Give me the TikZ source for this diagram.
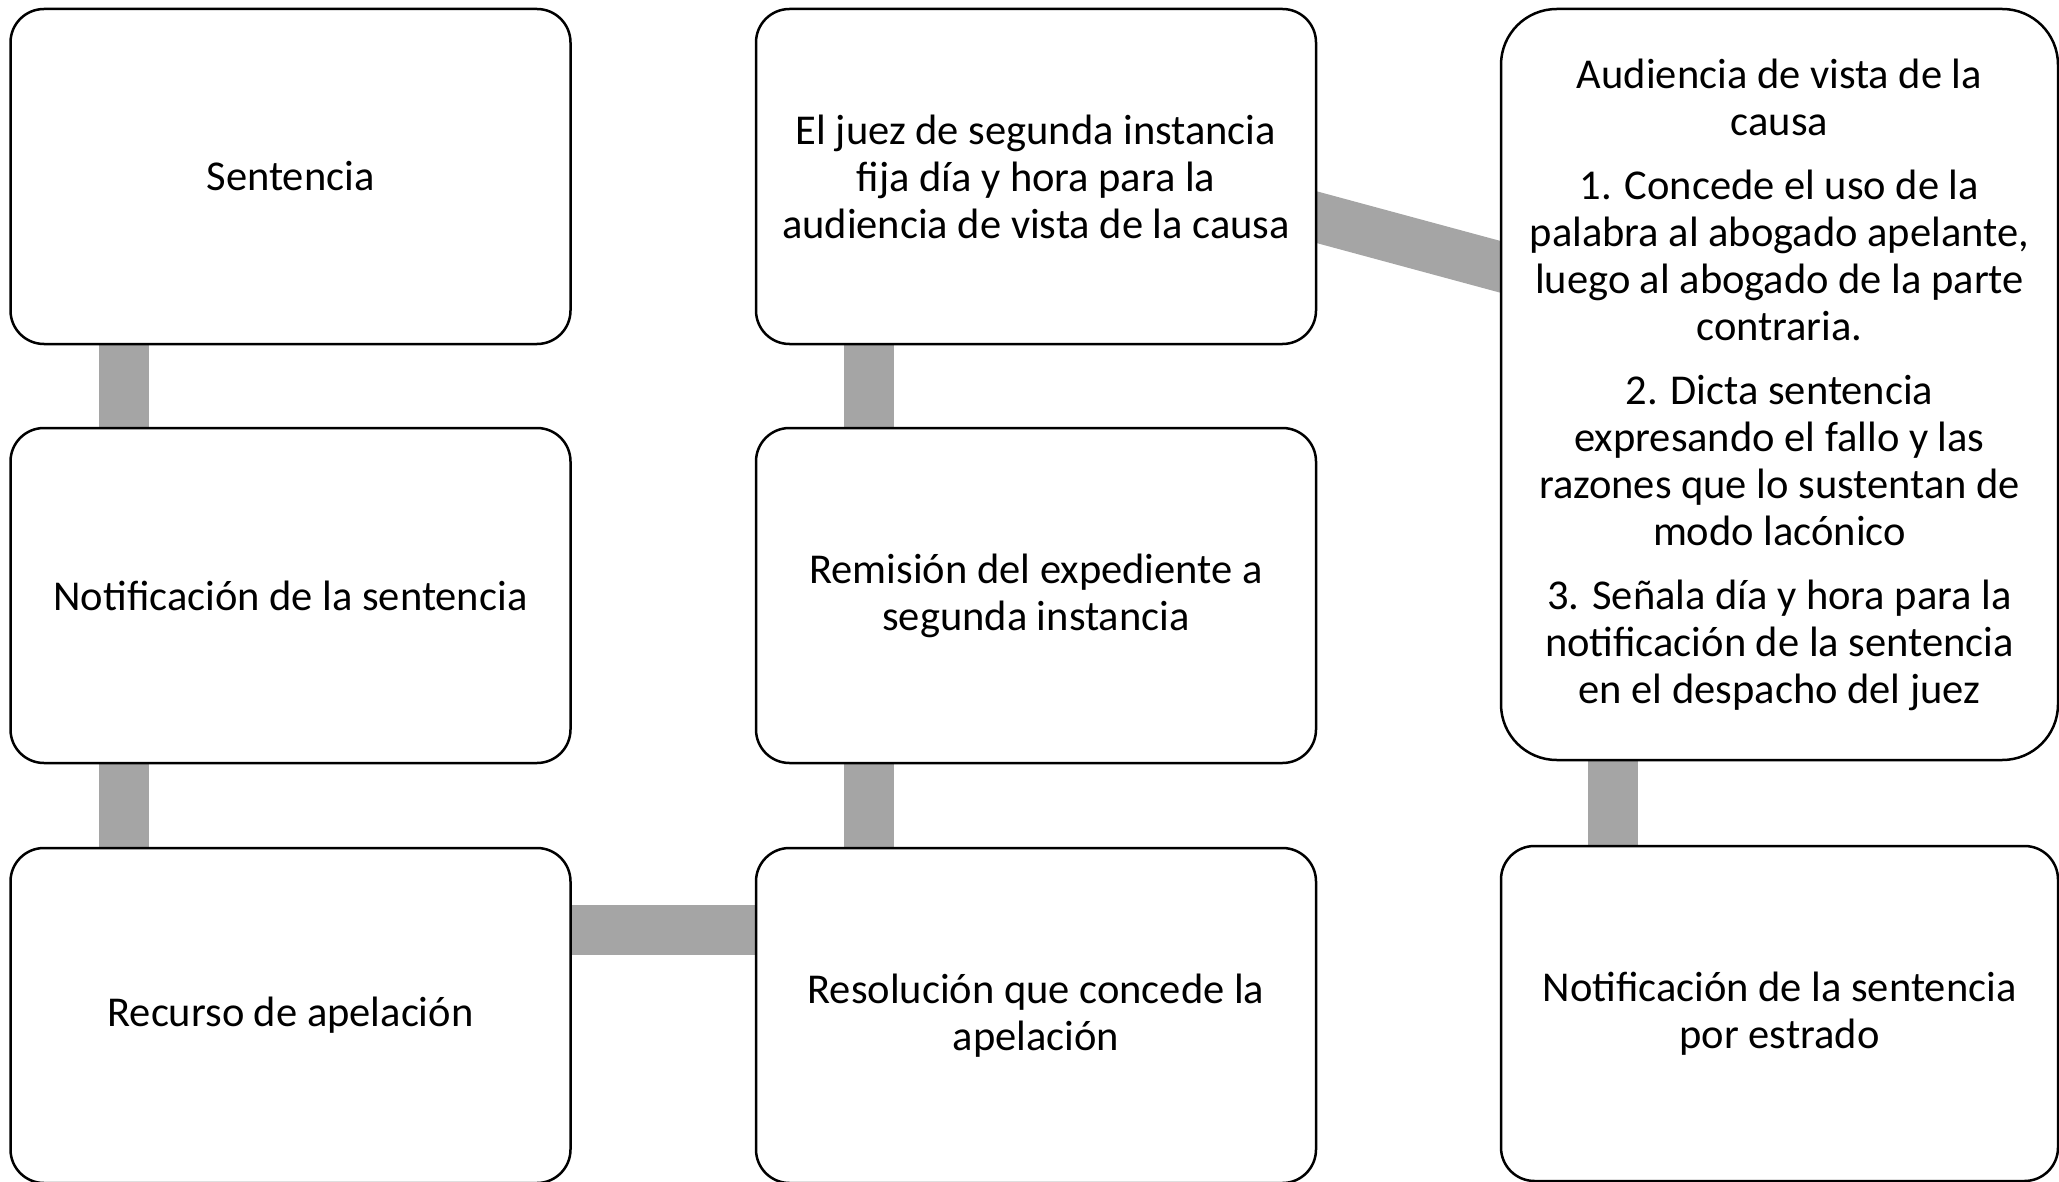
\documentclass[tikz,border=0pt]{standalone}
\usepackage{fontspec}
\setmainfont{Carlito}
\usetikzlibrary{calc,backgrounds}
\definecolor{conngray}{HTML}{A5A5A5}
\begin{document}
\begin{tikzpicture}[x=1pt,y=-1pt,
  box/.style={draw=black, line width=2.5pt, fill=white, rounded corners=33.5pt,
    minimum width=560pt, minimum height=335pt, anchor=north west, align=center,
    inner sep=0pt, outer sep=0pt, font=\fontsize{42.5}{47}\selectfont},
  conn/.style={draw=conngray, line width=50pt}]
\useasboundingbox (0,0) rectangle (2059,1182);
% column 1
\node[box] (s1) at (10.5,9) {Sentencia};
\node[box] (s2) at (10.5,428) {Notificación de la sentencia};
\node[box] (s3) at (10.5,848) {Recurso de apelación};
% column 2
\node[box] (m1) at (756,9) {El juez de segunda instancia\\fija día y hora para la\\audiencia de vista de la causa};
\node[box] (m2) at (756,428) {Remisión del expediente a\\segunda instancia};
\node[box] (m3) at (756,848) {Resolución que concede la\\apelación};
% column 3
\node[box, minimum width=557pt, minimum height=751pt, rounded corners=55.7pt] (r1) at (1501,9)
  {Audiencia de vista de la\\causa\\[17pt]
   1. Concede el uso de la\\palabra al abogado apelante,\\luego al abogado de la parte\\contraria.\\[17pt]
   2. Dicta sentencia\\expresando el fallo y las\\razones que lo sustentan de\\modo lacónico\\[17pt]
   3. Señala día y hora para la\\notificación de la sentencia\\en el despacho del juez};
\node[box, minimum width=557pt] (r2) at (1501,846) {Notificación de la sentencia\\por estrado};
% connectors
\coordinate (dA) at ($(m1.east)+(0,40.5)$);
\coordinate (dB) at ($(r1.west)+(0,-117.5)$);
\begin{scope}[on background layer]
  \draw[conn] ($(s1.south west)+(113.5,-5)$) -- ($(s2.north west)+(113.5,5)$);
  \draw[conn] ($(s2.south west)+(113.5,-5)$) -- ($(s3.north west)+(113.5,5)$);
  \draw[conn] ($(s3.north east)+(-5,82)$) -- ($(m3.north west)+(5,82)$);
  \draw[conn] ($(m3.north west)+(113,5)$) -- ($(m2.south west)+(113,-5)$);
  \draw[conn] ($(m2.north west)+(113,5)$) -- ($(m1.south west)+(113,-5)$);
  \draw[conn] ($(dA)!-0.15!(dB)$) -- ($(dB)!-0.15!(dA)$);
  \draw[conn] ($(r1.south west)+(112,-5)$) -- ($(r2.north west)+(112,5)$);
\end{scope}
\end{tikzpicture}
\end{document}
